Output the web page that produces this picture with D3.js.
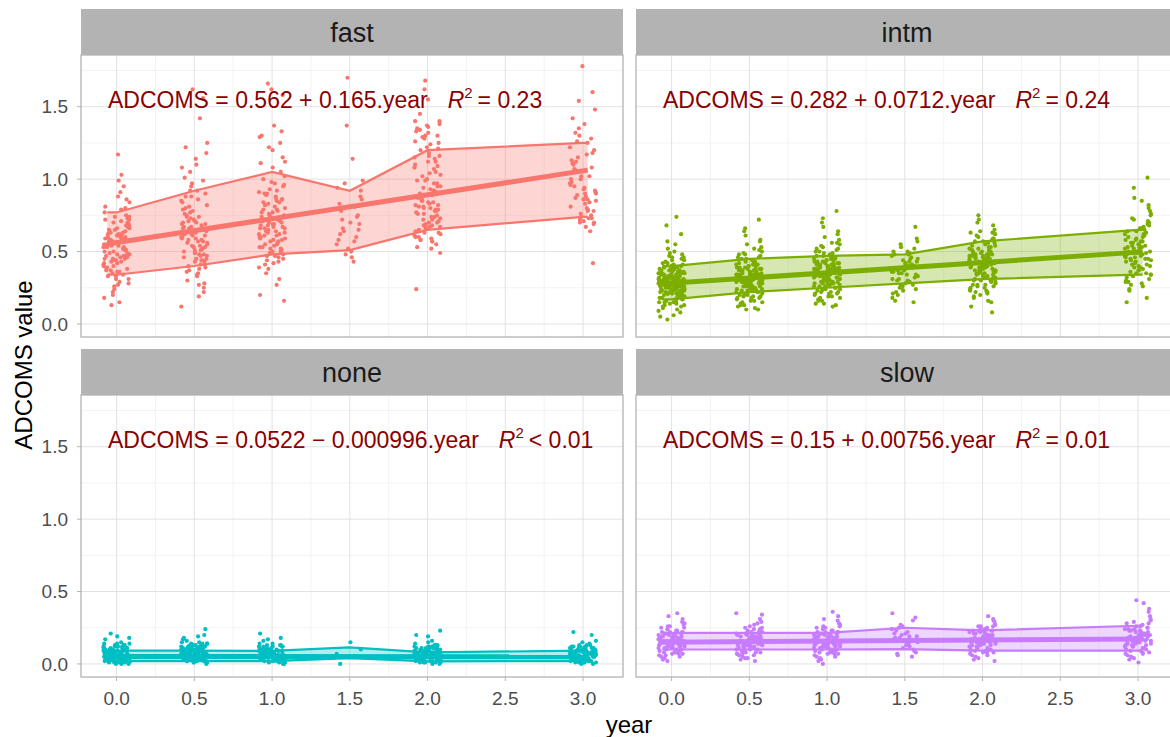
<!DOCTYPE html>
<html>
<head>
<meta charset="utf-8">
<script src="https://cdn.jsdelivr.net/npm/d3@7"></script>
<style>
  body { margin: 0; background: #fff; }
  svg { display: block; font-family: "Liberation Sans", Arial, sans-serif; }
</style>
</head>
<body>
<svg id="chart" width="1170" height="737"></svg>
<script>
// facets and colours
var groups = ["fast", "intm", "none", "slow"];
var colors = ["#F8766D", "#7CAE00", "#00BFC4", "#C77CFF"];
var years = [0, 0.5, 1, 1.5, 2, 3];

// fitted line per facet (from the labels)
var intercepts = [0.562, 0.282, 0.0522, 0.15];
var slopes = [0.165, 0.0712, -0.000996, 0.00756];
var r2Text = ["= 0.23", "= 0.24", "< 0.01", "= 0.01"];

// band limits at each visit
var bandLower = [
  [0.34, 0.40, 0.48, 0.51, 0.65, 0.74],
  [0.17, 0.22, 0.25, 0.28, 0.31, 0.34],
  [0.02, 0.02, 0.02, 0.04, 0.018, 0.02],
  [0.10, 0.10, 0.10, 0.103, 0.092, 0.092]
];
var bandUpper = [
  [0.77, 0.92, 1.05, 0.92, 1.20, 1.25],
  [0.40, 0.45, 0.47, 0.48, 0.57, 0.65],
  [0.092, 0.092, 0.09, 0.115, 0.08, 0.092],
  [0.215, 0.215, 0.215, 0.25, 0.232, 0.264]
];

// ADCOMS values per visit (one list per year above)
var fastPts = [
  [.55,.62,.41,.73,.48,.35,.66,.58,.29,.81,.52,.44,.69,.37,.60,.18,.75,.50,.63,.33,.88,.46,.57,.71,.26,.64,.39,.54,.95,.43,.68,.31,.59,.77,.47,.22,.61,.53,1.03,.40,.67,.36,.56,.84,.49,.15,.72,.45,.65,.28,.58,.91,.42,.51,.70,.34,.62,1.17,.38,.55,.79,.24,.60,.47,.99,.53,.13,.74,.44,.57,
   .50,.58,.45,.66,.39,.61,.53,.70,.42,.57,.48,.64,.36,.59,.51,.74,.31,.63,.46,.55,.68,.40,.52,.60,.27,.49,.65,.43,.56,.80,.37,.62,.47,.54,.72,.33,.58,.45,.86,.20],
  [.62,.48,.85,.39,.71,1.05,.55,.30,.92,.66,.44,.78,1.18,.58,.35,.69,.25,.88,.51,1.22,.63,.41,.75,.19,.97,.57,.46,1.10,.68,.37,.82,.53,1.42,.60,.28,.73,.49,1.01,.65,.12,.90,.43,.77,1.25,.56,.33,.70,.52,1.62,.64,.40,.86,.59,.22,.95,.47,.80,1.14,.61,.36,.74,.54,1.56,.67,.45,
   .58,.66,.47,.72,.54,.84,.43,.63,.51,.76,.38,.60,.69,.49,.92,.56,.64,.34,.79,.52,.61,.45,.71,.57,1.08,.48,.67,.41,.88,.59,.53,.74,.27,.62,.99,.50,.70,.44,.81,.65],
  [.72,.55,.91,.48,1.08,.63,.80,.41,.97,.68,1.25,.52,.75,.35,.88,.60,1.33,.70,.46,.84,.58,1.15,.66,.27,.93,.50,.77,1.37,.62,.44,1.02,.73,.56,.20,.86,.65,1.20,.53,.79,.39,.95,.69,1.66,.59,.82,.47,1.11,.71,.57,.16,.89,.64,1.29,.51,.76,.43,1.00,.67,1.58,.61,.85,.49,1.05,.74,.54,.31,.90,.66,1.62,.78,
   .66,.58,.83,.50,.71,.92,.62,.45,.77,.68,1.12,.55,.81,.60,.73,.49,.96,.64,.87,.53,.70,1.22,.57,.79,.42,.67,.90,.61,.75,.52,1.30,.69,.84,.47,.63,.98,.72,.59,.86,.38],
  [.62,.81,.55,.92,.70,.48,.99,.66,1.14,.58,.75,.52,.86,.64,.43,.94,.69,1.37,.60,.78,.50,.88,.72,.57,1.70,.65,.83,.46,.74,.97],
  [.88,.72,1.15,.63,1.32,.81,.95,.58,1.24,.77,1.05,.66,1.38,.85,.52,1.10,.70,1.28,.92,.60,1.18,.79,1.45,.68,.99,.55,1.35,.83,.74,1.02,.49,1.22,.90,.64,1.30,.76,1.55,.87,.57,1.08,.71,1.36,.94,.62,1.20,.80,.24,1.12,.69,1.40,.86,.59,1.26,.75,1.62,.97,.65,1.16,.82,1.34,.73,1.68,.91,.53,1.04,.78,1.29,.67,1.00,.84,
   .82,.95,.68,1.12,.76,.89,.61,1.25,.84,.72,1.03,.58,.93,1.33,.79,.66,1.16,.87,.74,1.40,.97,.63,1.07,.81,.70,1.21,.90,.57,1.30,.78,.99,.67,1.14,.85,.73,1.37,.92,.60,1.09,.80],
  [1.05,.78,1.22,.70,.93,1.35,.85,1.12,.67,.98,1.28,.74,1.48,.89,1.17,.81,1.60,.72,1.02,.95,1.38,.69,.87,1.25,.76,1.08,1.42,.83,.64,1.15,.91,1.78,.73,1.00,.42,1.30,.86,1.10,.79,.97,1.20,.71,1.54,.90,1.06,
   .88,1.13,.75,1.02,.92,1.26,.80,.96,1.18,.70,.84,1.07,.94,.78,1.32,.86,1.00,.73,1.11,.90]
];
var intmPts = [
  [.28,.21,.35,.17,.31,.42,.24,.13,.38,.27,.19,.33,.46,.22,.30,.15,.40,.26,.36,.11,.29,.48,.20,.34,.25,.08,.37,.23,.32,.16,.44,.27,.39,.18,.30,.52,.21,.35,.14,.28,.41,.24,.57,.19,.33,.26,.05,.37,.22,.31,.43,.17,.29,.62,.25,.36,.12,.32,.20,.39,.27,.47,.23,.34,.15,.30,.68,.26,.38,.10,.28,.45,.21,.33,.18,.74,.31,.24,.40,.03,.35,.27,.50,.22,.29,.14,.36,.25,.55,.32,
   .26,.33,.19,.29,.37,.22,.31,.16,.27,.35,.24,.41,.20,.30,.13,.34,.25,.38,.18,.28,.44,.23,.32,.09,.27,.36,.21,.30,.15,.39,.26,.33,.49,.19,.29,.24,.35,.12,.31,.22,.42,.28,.17,.34,.25,.37,.20,.30,.06,.26,.32,.23,.40,.18,.29,.35,.21,.46,.27,.31],
  [.32,.25,.41,.19,.36,.48,.28,.15,.44,.30,.22,.38,.53,.26,.34,.17,.46,.29,.40,.13,.33,.57,.23,.37,.27,.10,.42,.24,.35,.20,.50,.31,.43,.18,.29,.61,.27,.39,.16,.34,.47,.25,.66,.21,.36,.30,.12,.41,.23,.33,.49,.19,.32,.72,.28,.38,.14,.35,.26,.45,.31,.55,.22,.37,.18,.33,.64,.24,.40,.11,.30,.51,.27,.36,.20,.43,.29,.58,.34,.26,
   .30,.37,.23,.33,.41,.26,.35,.19,.31,.39,.28,.45,.24,.34,.16,.38,.29,.42,.21,.32,.48,.27,.36,.13,.31,.40,.25,.34,.18,.43,.30,.37,.52,.22,.33,.28,.39,.15,.35,.26,.46,.32,.20,.38,.29,.41,.24,.34,.10,.36],
  [.36,.28,.45,.22,.40,.53,.31,.18,.48,.34,.25,.42,.58,.29,.38,.20,.51,.33,.44,.16,.37,.62,.26,.41,.30,.13,.47,.27,.39,.23,.55,.35,.49,.21,.32,.67,.30,.43,.19,.38,.52,.28,.73,.24,.40,.34,.14,.46,.26,.37,.54,.22,.36,.78,.31,.42,.17,.39,.29,.50,.35,.60,.25,.41,.21,.37,.70,.27,.44,.12,.33,.56,.30,.40,.23,.48,.32,.64,.38,.28,
   .34,.41,.27,.37,.45,.30,.39,.22,.35,.43,.32,.49,.28,.38,.19,.42,.33,.46,.25,.36,.52,.31,.40,.16,.35,.44,.29,.38,.21,.47,.34,.41,.56,.26,.37,.32,.43,.18,.39,.30,.50,.36,.24,.42,.33,.45,.28,.38,.14,.40],
  [.38,.29,.47,.24,.42,.55,.33,.20,.50,.36,.27,.44,.59,.31,.40,.18,.52,.35,.46,.22,.39,.67,.30,.43,.26,.15,.48,.34,.41,.25,.57,.37,.45,.21,.32,.53,.28,.16,.49,.36,
   .34,.41,.27,.45,.37,.30,.50,.39,.23,.43,.35,.48,.31,.40,.25],
  [.42,.33,.52,.26,.47,.60,.37,.22,.55,.40,.30,.49,.65,.35,.44,.24,.58,.39,.51,.19,.43,.68,.31,.48,.36,.15,.54,.32,.45,.27,.62,.41,.56,.25,.38,.72,.34,.50,.21,.44,.59,.33,.75,.28,.46,.40,.12,.53,.30,.42,.61,.23,.41,.08,.37,.49,.18,.45,.34,.57,.40,.64,.29,.47,.25,.43,.70,.32,.50,.16,.39,.63,.35,.46,.27,
   .40,.47,.32,.43,.52,.36,.45,.27,.41,.50,.38,.56,.34,.44,.23,.48,.39,.53,.30,.42,.59,.37,.46,.20,.41,.51,.35,.44,.26,.54,.40,.47,.63,.31,.43,.38,.49,.22,.45,.36,.57,.42,.29,.48,.39],
  [.50,.38,.62,.31,.55,.72,.44,.27,.66,.48,.35,.59,.78,.41,.53,.29,.69,.46,.61,.23,.51,.82,.36,.57,.43,.18,.64,.39,.54,.33,.75,.49,.67,.30,.45,.87,.40,.60,.26,.52,.70,.37,.94,.34,.56,.47,.15,.63,.35,.50,.73,.28,.58,1.01,.42,.65,.24,.53,.80,.45,
   .48,.58,.41,.53,.66,.45,.56,.34,.50,.62,.43,.71,.39,.55,.29,.60,.47,.68,.37,.52,.76,.44,.57,.32,.49,.64,.40,.54,.85,.46]
];
var nonePts = [
  [.05,.02,.09,.04,.12,.07,.01,.10,.06,.03,.13,.08,.00,.11,.05,.14,.03,.09,.06,.02,.12,.07,.04,.15,.01,.10,.08,.05,.13,.03,.18,.06,.11,.02,.09,.04,.14,.07,.00,.12,.05,.19,.08,.03,.10,.06,.17,.01,.13,.04,.21,.07,.11,.02,.09,
   .03,.08,.05,.11,.01,.07,.04,.10,.06,.02,.13,.09,.05,.00,.12,.07,.03,.10,.06,.08,.04,.11,.02,.09,.05,.14,.07,.01,.10,.04,.12,.06,.03,.08,.05,.11,.02,.09,.07,.04],
  [.06,.03,.10,.05,.13,.08,.01,.11,.07,.04,.14,.09,.00,.12,.06,.15,.02,.10,.05,.03,.13,.08,.16,.04,.11,.07,.18,.02,.09,.06,.14,.01,.12,.05,.20,.08,.03,.10,.15,.07,.24,.04,.13,.06,.02,.11,.17,.09,.05,.01,.12,.19,.07,.03,.14,
   .04,.09,.06,.12,.02,.08,.05,.11,.07,.03,.13,.10,.06,.01,.12,.08,.04,.11,.07,.09,.05,.12,.03,.10,.06,.14,.08,.02,.11,.05,.13,.07,.04,.09,.06,.12,.03,.10,.08,.05],
  [.05,.02,.09,.04,.12,.07,.01,.10,.06,.03,.13,.08,.00,.11,.05,.14,.03,.09,.06,.16,.02,.12,.07,.04,.10,.18,.08,.05,.01,.13,.03,.11,.06,.21,.09,.02,.14,.07,.04,.12,.00,.08,.17,.05,.10,
   .04,.07,.02,.10,.05,.08,.03,.11,.06,.01,.09,.12,.04,.07,.02,.10,.06,.13,.03,.08,.05,.11,.01,.09,.06,.04,.12,.07,.02,.10],
  [.00,.05,.07,.10,.15],
  [.05,.02,.09,.04,.12,.07,.01,.10,.06,.03,.13,.08,.00,.11,.05,.14,.03,.09,.06,.02,.12,.07,.04,.16,.01,.10,.08,.05,.13,.03,.23,.06,.11,.02,.09,.04,.19,.07,.00,.12,.05,.15,.08,.03,.10,.06,.20,.01,.11,.04,
   .03,.08,.05,.11,.02,.07,.04,.10,.06,.01,.12,.09,.05,.03,.11,.07,.02,.10,.06,.08,.04,.13,.01,.09,.05,.12,.07,.03,.10,.04,.08,.06,.02,.11,.05],
  [.04,.02,.08,.05,.11,.06,.01,.09,.03,.12,.07,.00,.10,.05,.13,.02,.08,.04,.14,.06,.01,.11,.07,.03,.09,.20,.05,.12,.02,.10,.06,.15,.04,.08,.00,.13,.03,.22,.07,.11,.05,.01,.09,.16,.04,.12,.06,.02,.10,.08,
   .05,.03,.09,.06,.12,.02,.07,.04,.10,.01,.08,.05,.11,.03,.06,.13,.02,.09,.04,.07,.10,.05,.01,.08,.12,.03,.06,.09,.04,.11,.07,.02,.10,.05,.08]
];
var slowPts = [
  [.15,.10,.20,.07,.17,.24,.12,.04,.19,.14,.09,.22,.27,.11,.16,.06,.21,.13,.18,.03,.15,.29,.08,.23,.12,.17,.05,.20,.14,.10,.25,.16,.35,.09,.19,.13,.07,.22,.15,.11,.31,.18,.02,.14,.21,.08,.17,.12,.26,.16,.06,.20,.13,.10,.33,
   .14,.19,.11,.22,.16,.09,.20,.13,.25,.17,.07,.21,.15,.12,.23,.18,.10,.26,.14,.19,.08,.17,.22,.13,.16,.28,.11,.20,.15,.05],
  [.16,.11,.21,.08,.18,.25,.13,.05,.20,.15,.10,.23,.29,.12,.17,.07,.22,.14,.19,.03,.16,.31,.09,.24,.13,.18,.06,.21,.15,.11,.34,.17,.02,.20,.14,.08,.26,.16,.12,.35,.19,.10,.15,.22,.07,.18,.13,.28,.04,.17,
   .13,.18,.10,.21,.15,.08,.19,.12,.24,.16,.06,.20,.14,.11,.22,.17,.09,.25,.13,.18,.07,.16,.21,.12,.15,.27,.10,.19,.14,.04],
  [.15,.10,.20,.07,.17,.24,.12,.04,.19,.14,.09,.22,.28,.11,.16,.06,.21,.13,.18,.02,.15,.30,.08,.23,.12,.17,.05,.20,.14,.10,.26,.16,.36,.09,.19,.13,.07,.22,.15,.11,.33,.18,.00,.14,.21,.08,.17,.12,.25,.16,.03,.20,.13,.10,.31,
   .14,.19,.11,.22,.16,.09,.20,.13,.25,.17,.07,.21,.15,.12,.23,.18,.10,.26,.14,.19,.08,.17,.22,.13,.16,.27,.11,.20,.15,.05],
  [.18,.12,.24,.08,.21,.27,.15,.06,.22,.17,.30,.11,.19,.25,.14,.35,.09,.20,.16,.23,.13,.32,.07,.19,.26,.10,.21,.15,.05,.18],
  [.17,.11,.22,.08,.19,.26,.14,.05,.21,.15,.10,.24,.29,.12,.18,.07,.23,.14,.20,.03,.16,.31,.09,.25,.13,.19,.06,.22,.15,.11,.27,.17,.33,.10,.20,.14,.08,.23,.16,.12,.30,.18,.04,.15,.21,.09,.17,.13,.26,.02,
   .15,.20,.12,.23,.17,.10,.21,.14,.26,.18,.08,.22,.16,.13,.24,.19,.11,.27,.15,.20,.09,.18,.23,.14,.17,.06],
  [.18,.11,.24,.08,.20,.29,.14,.05,.22,.16,.10,.26,.33,.13,.19,.07,.25,.15,.21,.03,.17,.36,.09,.27,.14,.20,.06,.23,.16,.12,.31,.18,.42,.10,.22,.15,.01,.24,.17,.12,.38,.19,.04,.16,.23,.09,.28,.13,.44,.20,
   .16,.21,.13,.25,.18,.11,.23,.15,.28,.19,.08,.22,.17,.14,.26,.20,.12,.30,.16,.21,.10,.19,.24,.15,.18,.07]
];
var pointSets = [fastPts, intmPts, nonePts, slowPts];

// horizontal jitter offsets (years), reused in turn
var jitterX = [-0.062,0.031,-0.084,0.071,0.004,-0.027,0.083,-0.045,0.018,-0.073,0.052,-0.011,0.077,-0.038,0.024,-0.08,0.061,-0.02,0.041,-0.056,0.009,0.068,-0.049,0.029,-0.015,0.056,-0.067,0.013,0.046,-0.033,0.081,-0.004,0.036,-0.077,0.064,-0.024,0.003];

var xTicks = [0, 0.5, 1, 1.5, 2, 2.5, 3];
var xMinor = [0.25, 0.75, 1.25, 1.75, 2.25, 2.75];
var yTicks = [0, 0.5, 1, 1.5];
var yMinor = [0.25, 0.75, 1.25, 1.75];

var svg = d3.select("#chart");
var colX = [81, 636], rowY = [9, 349];
var stripH = 46, panelW = 542, panelH = 282;

var x = d3.scaleLinear().domain([-0.229, 3.257]).range([0, panelW]);
var y = d3.scaleLinear().domain([-0.09, 1.857]).range([panelH, 0]);

groups.forEach(function (g, k) {
  var col = k % 2, row = Math.floor(k / 2);
  var gx = colX[col], gy = rowY[row] + stripH;
  var color = colors[k];

  // strip
  svg.append("rect")
    .attr("x", gx).attr("y", rowY[row])
    .attr("width", panelW).attr("height", stripH)
    .attr("fill", "#b3b3b3");
  svg.append("text")
    .attr("x", gx + panelW / 2).attr("y", rowY[row] + 33)
    .attr("text-anchor", "middle")
    .attr("font-size", 27).attr("fill", "#1a1a1a")
    .text(g);

  var p = svg.append("g").attr("transform", "translate(" + gx + "," + gy + ")");

  svg.append("clipPath").attr("id", "clip" + k)
    .append("rect").attr("width", panelW).attr("height", panelH);

  // grid
  p.selectAll(".xmin").data(xMinor).enter().append("line")
    .attr("x1", x).attr("x2", x).attr("y1", 0).attr("y2", panelH)
    .attr("stroke", "#f0f0f0").attr("stroke-width", 0.8);
  p.selectAll(".ymin").data(yMinor).enter().append("line")
    .attr("y1", y).attr("y2", y).attr("x1", 0).attr("x2", panelW)
    .attr("stroke", "#f0f0f0").attr("stroke-width", 0.8);
  p.selectAll(".xmaj").data(xTicks).enter().append("line")
    .attr("x1", x).attr("x2", x).attr("y1", 0).attr("y2", panelH)
    .attr("stroke", "#e2e2e2").attr("stroke-width", 1);
  p.selectAll(".ymaj").data(yTicks).enter().append("line")
    .attr("y1", y).attr("y2", y).attr("x1", 0).attr("x2", panelW)
    .attr("stroke", "#e2e2e2").attr("stroke-width", 1);

  var plot = p.append("g").attr("clip-path", "url(#clip" + k + ")");

  // band through the visits, held flat past the first and last one
  var band = years.map(function (t, j) {
    return { t: t, lo: bandLower[k][j], hi: bandUpper[k][j] };
  });
  band.unshift({ t: -0.06, lo: band[0].lo, hi: band[0].hi });
  band.push({ t: 3.03, lo: band[band.length - 1].lo, hi: band[band.length - 1].hi });

  plot.append("path").datum(band)
    .attr("d", d3.area().x(function (d) { return x(d.t); })
      .y0(function (d) { return y(d.lo); }).y1(function (d) { return y(d.hi); }))
    .attr("fill", color).attr("fill-opacity", 0.3);

  // jittered points
  var pts = [];
  pointSets[k].forEach(function (vals, j) {
    vals.forEach(function (v, i) {
      pts.push({ t: years[j] + jitterX[i % jitterX.length], v: v });
    });
  });
  plot.selectAll("circle").data(pts).enter().append("circle")
    .attr("cx", function (d) { return x(d.t); })
    .attr("cy", function (d) { return y(d.v); })
    .attr("r", 2.1)
    .attr("fill", color);

  // band edges
  ["lo", "hi"].forEach(function (key) {
    plot.append("path").datum(band)
      .attr("d", d3.line().x(function (d) { return x(d.t); }).y(function (d) { return y(d[key]); }))
      .attr("fill", "none").attr("stroke", color).attr("stroke-width", 2.2);
  });

  // fitted line
  var ends = [-0.06, 3.03];
  plot.append("line")
    .attr("x1", x(ends[0])).attr("y1", y(intercepts[k] + slopes[k] * ends[0]))
    .attr("x2", x(ends[1])).attr("y2", y(intercepts[k] + slopes[k] * ends[1]))
    .attr("stroke", color).attr("stroke-width", 5);

  // equation label
  var b = slopes[k];
  var eq = "ADCOMS = " + intercepts[k] + (b < 0 ? " \u2212 " : " + ") + Math.abs(b) + ".year";
  var t = p.append("text")
    .attr("x", 27).attr("y", 53)
    .attr("font-size", 23).attr("fill", "#8B0000");
  t.append("tspan").text(eq);
  t.append("tspan").attr("dx", 20).attr("font-style", "italic").text("R");
  t.append("tspan").attr("dy", -10).attr("font-size", 15).text("2");
  t.append("tspan").attr("dy", 10).attr("dx", 5).text(r2Text[k]);

  // panel border
  p.append("rect").attr("width", panelW).attr("height", panelH)
    .attr("fill", "none").attr("stroke", "#b3b3b3").attr("stroke-width", 1.3);

  // axes
  if (col === 0) {
    p.selectAll(".yt").data(yTicks).enter().append("line")
      .attr("x1", -4).attr("x2", 0).attr("y1", y).attr("y2", y)
      .attr("stroke", "#b3b3b3");
    p.selectAll(".yl").data(yTicks).enter().append("text")
      .attr("x", -13).attr("y", y).attr("dy", "0.35em")
      .attr("text-anchor", "end").attr("font-size", 19).attr("fill", "#4d4d4d")
      .text(d3.format(".1f"));
  }
  if (row === 1) {
    p.selectAll(".xt").data(xTicks).enter().append("line")
      .attr("x1", x).attr("x2", x).attr("y1", panelH).attr("y2", panelH + 4)
      .attr("stroke", "#b3b3b3");
    p.selectAll(".xl").data(xTicks).enter().append("text")
      .attr("x", x).attr("y", panelH + 28)
      .attr("text-anchor", "middle").attr("font-size", 19).attr("fill", "#4d4d4d")
      .text(d3.format(".1f"));
  }
});

// axis titles
svg.append("text")
  .attr("transform", "translate(32,365) rotate(-90)")
  .attr("text-anchor", "middle").attr("font-size", 24).attr("fill", "#000")
  .text("ADCOMS value");
svg.append("text")
  .attr("x", 629).attr("y", 733)
  .attr("text-anchor", "middle").attr("font-size", 24).attr("fill", "#000")
  .text("year");
</script>
</body>
</html>
